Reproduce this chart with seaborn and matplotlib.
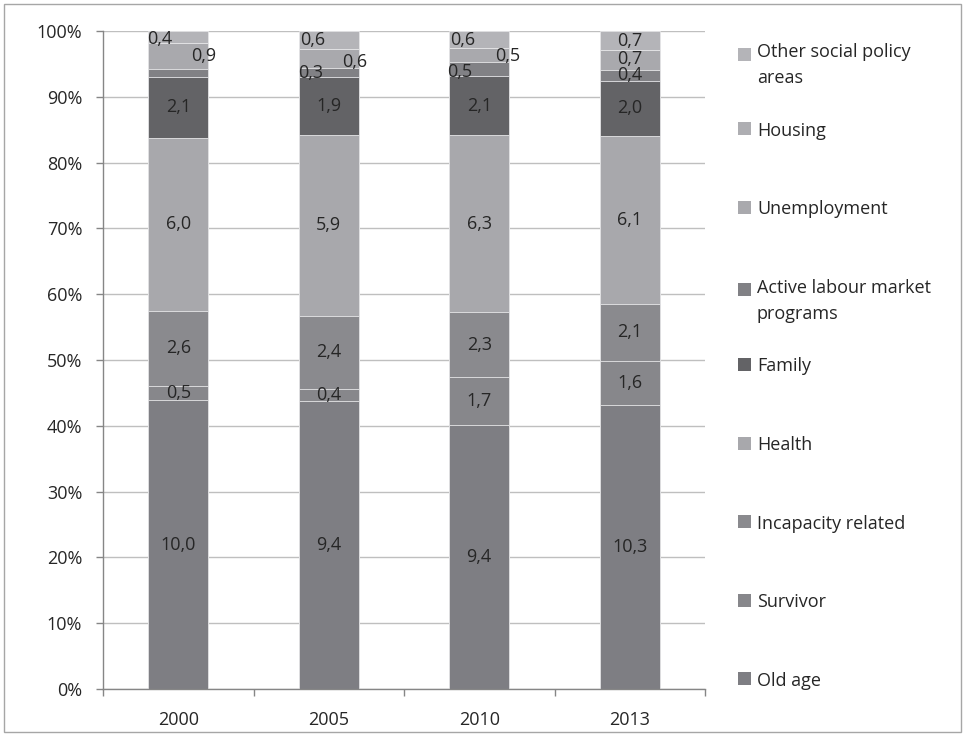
import numpy as np
import pandas as pd
import matplotlib
matplotlib.use("Agg")
import matplotlib.pyplot as plt
import seaborn as sns
from matplotlib.patches import Rectangle

years = ["2000", "2005", "2010", "2013"]
categories = ["Old age", "Survivor", "Incapacity related", "Health", "Family",
              "Active labour market programs", "Unemployment", "Housing",
              "Other social policy areas"]
legend_labels = [["Old age"], ["Survivor"], ["Incapacity related"], ["Health"], ["Family"],
                 ["Active labour market", "programs"], ["Unemployment"], ["Housing"],
                 ["Other social policy", "areas"]]
old_age      = [10.0, 9.4, 9.4, 10.3]
survivor     = [0.5, 0.4, 1.7, 1.6]
incapacity   = [2.6, 2.4, 2.3, 2.1]
health       = [6.0, 5.9, 6.3, 6.1]
family       = [2.1, 1.9, 2.1, 2.0]
almp         = [0.3, 0.3, 0.5, 0.4]
unemployment = [0.9, 0.6, 0.5, 0.7]
housing      = [0.0, 0.0, 0.0, 0.0]
other        = [0.4, 0.6, 0.6, 0.7]
series = [old_age, survivor, incapacity, health, family, almp, unemployment, housing, other]
# which labels are shown (2000 ALMP and Housing have none)
show_label = [
    [True] * 4, [True] * 4, [True] * 4, [True] * 4, [True] * 4,
    [False, True, True, True], [True] * 4, [False] * 4, [True] * 4,
]
colors = ["#7e7e83", "#87878b", "#8a8a8e", "#a8a8ac", "#636366",
          "#818185", "#a9a9ad", "#aeaeb2", "#b4b4b8"]
# label offsets in pixels (dx, dy) for small segments, per category per year
offsets = {
    5: [(0, 0), (-18, -1), (-20, -3), (0, 0)],
    6: [(25, 0), (26, -3), (28, -1), (0, 1)],
    8: [(-18, -2), (-16, 0), (-17, -1), (0, 0)],
}

plt.rcParams['font.family'] = ['Open Sans', 'DejaVu Sans']
txt_color = "#262626"
FS = 13

fig = plt.figure(figsize=(9.65, 7.36), dpi=100)
W, H = 965, 736
ax = fig.add_axes([103 / W, 1 - 689 / H, (705 - 103) / W, (689 - 31) / H])

data = np.array(series)  # shape (9, 4)
totals = data.sum(axis=0)
pct = data / totals * 100
cum = np.cumsum(pct, axis=0)

# draw from top cumulative down so lower layers overlay
for i in range(len(categories) - 1, -1, -1):
    df = pd.DataFrame({"year": years, "cum": cum[i]})
    sns.barplot(data=df, x="year", y="cum", order=years, color=colors[i],
                width=0.4, edgecolor="#e6e6e8", linewidth=0.6, saturation=1,
                ax=ax, zorder=2)

# data labels
for i in range(len(categories)):
    for j in range(len(years)):
        if not show_label[i][j]:
            continue
        center = cum[i][j] - pct[i][j] / 2
        dx, dy = offsets.get(i, [(0, 0)] * 4)[j]
        ax.annotate(f"{data[i][j]:.1f}".replace(".", ","), xy=(j, center),
                    xytext=(dx, dy), textcoords="offset pixels",
                    ha="center", va="center", fontsize=FS, color=txt_color,
                    zorder=5)

ax.set_xlim(-0.5, 3.5)
ax.set_ylim(0, 100)
ax.set_yticks(np.arange(0, 101, 10))
ax.set_yticklabels([f"{v}%" for v in range(0, 101, 10)])
ax.set_xticks(range(4))
ax.set_xticklabels(years)
ax.set_xticks(np.arange(-0.5, 3.6, 1), minor=True)
ax.tick_params(axis="x", which="major", length=0, pad=16, labelsize=FS, colors=txt_color)
ax.tick_params(axis="x", which="minor", length=5, color="#868686", width=1)
ax.tick_params(axis="y", which="major", length=5, color="#868686", width=1,
               labelsize=FS, labelcolor=txt_color, pad=10)
ax.set_xlabel("")
ax.set_ylabel("")
ax.grid(axis="y", color="#bfbfbf", linewidth=1, zorder=0)
ax.set_axisbelow(True)
for s in ["top", "right"]:
    ax.spines[s].set_visible(False)
for s in ["left", "bottom"]:
    ax.spines[s].set_color("#868686")
    ax.spines[s].set_linewidth(1)
ax.set_facecolor("white")

# legend drawn manually
for k, i in enumerate(range(len(categories) - 1, -1, -1)):
    yc = 50 + 78.6 * k
    lines = legend_labels[i]
    my = yc + (4 if len(lines) > 1 else 0)
    fig.patches.append(Rectangle((738 / W, 1 - (my + 6.5) / H), 13 / W, 13 / H,
                                 transform=fig.transFigure, facecolor=colors[i],
                                 edgecolor="none"))
    for n, line in enumerate(lines):
        fig.text(757 / W, 1 - (yc + 26 * n) / H, line, ha="left", va="center_baseline",
                 fontsize=FS, color=txt_color)

# outer border
fig.patches.append(Rectangle((4 / W, 4 / H), (W - 8) / W, (H - 8) / H,
                             transform=fig.transFigure, facecolor="none",
                             edgecolor="#a6a6a6", linewidth=1))

fig.savefig("out.png", dpi=100)
